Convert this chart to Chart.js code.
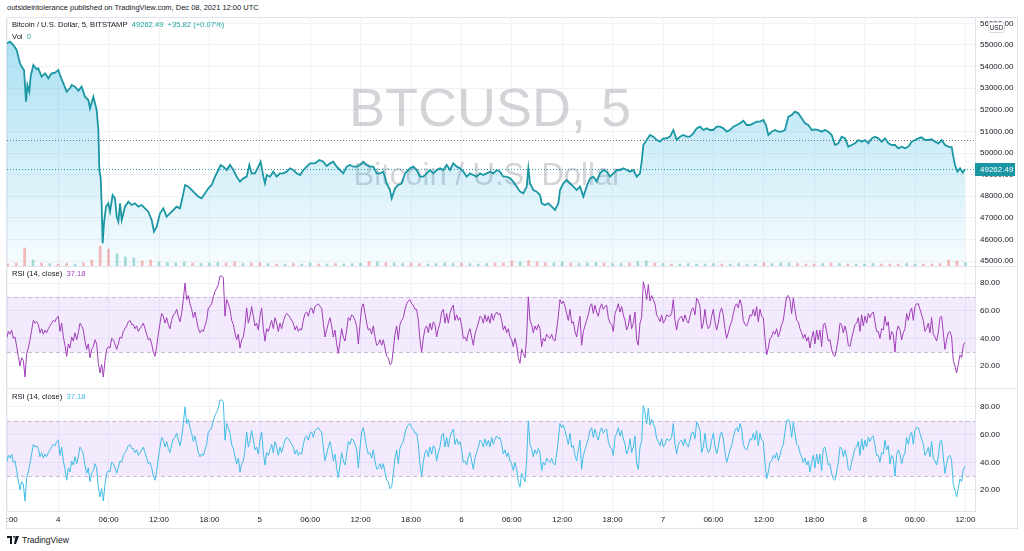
<!DOCTYPE html>
<html>
<head>
<meta charset="utf-8">
<script src="https://cdn.jsdelivr.net/npm/chart.js@4.4.1/dist/chart.umd.min.js"></script>
<style>
  body { margin: 0; width: 1024px; height: 551px; overflow: hidden; background: #fff;
         font-family: "Liberation Sans", Arial, sans-serif; color: #131722; position: relative; }
  .abs { position: absolute; }
  #hdr { left: 7px; top: 3px; font-size: 7.5px; line-height: 10px; white-space: nowrap; }
  #frame { left: 6px; top: 17px; width: 1012px; height: 512px; border: 1px solid #e0e3eb; box-sizing: border-box; }
  .sep { left: 6px; width: 1012px; height: 1px; background: #e0e3eb; }
  .legend { left: 12px; font-size: 7.6px; line-height: 10px; white-space: nowrap; }
  #footer { left: 7px; top: 534px; font-size: 8.5px; line-height: 12px; display: flex; align-items: center; gap: 3px; }
</style>
</head>
<body>
<div id="hdr" class="abs">outsideintolerance published on TradingView.com, Dec 08, 2021 12:00 UTC</div>
<div id="frame" class="abs"></div>

<canvas id="priceChart" class="abs" style="left:7px;top:17px" width="1010" height="249"></canvas>
<div class="abs sep" style="top:266px"></div>
<canvas id="rsiChart1" class="abs" style="left:7px;top:267px" width="1010" height="121"></canvas>
<div class="abs sep" style="top:388px"></div>
<canvas id="rsiChart2" class="abs" style="left:7px;top:389px" width="1010" height="139"></canvas>

<div class="abs legend" style="top:20px">Bitcoin / U.S. Dollar, 5, BITSTAMP&nbsp;&nbsp;<span style="color:#22a39a">49262.49&nbsp;&nbsp;+35.82 (+0.07%)</span></div>
<div class="abs legend" style="top:32px">Vol&nbsp;&nbsp;<span style="color:#22a39a">0</span></div>
<div class="abs legend" style="top:269px">RSI (14, close)&nbsp;&nbsp;<span style="color:#a03db8">37.18</span></div>
<div class="abs legend" style="top:392px">RSI (14, close)&nbsp;&nbsp;<span style="color:#3fbde6">37.18</span></div>

<div id="footer" class="abs">
  <svg width="12" height="8" viewBox="0 0 12 8"><path d="M0 0h5v8H3V2H0z M6 0h2l-1 3z M8.5 0h3.5l-3 8H7z" fill="#131722"/></svg>
  <span>TradingView</span>
</div>

<script>
// 가격 데이터 (시간: 12월 3일 18:00 기준 경과 시간)
const priceHours = [
  -0.1, 0.26, 0.66, 1.06, 1.25, 1.45, 1.77, 1.93, 2.17, 2.33, 2.56, 2.72, 3.04, 3.44, 3.63, 4.03, 4.43, 4.83, 5.22, 5.62,
  6.02, 6.21, 6.61, 7.01, 7.40, 7.60, 8.00, 8.40, 8.79, 9.19, 9.59, 9.79, 10.18, 10.58, 10.78, 10.90, 11.06, 11.17, 11.29, 11.45,
  11.69, 11.97, 12.17, 12.48, 12.76, 12.96, 13.16, 13.36, 13.56, 13.95, 14.35, 14.75, 15.14, 15.54, 15.94, 16.33, 16.73, 17.13, 17.40, 17.72,
  18.12, 18.52, 18.91, 19.31, 19.71, 20.10, 20.50, 20.82, 21.10, 21.49, 21.89, 22.29, 22.68, 23.08, 23.48, 23.87, 24.27, 24.67, 25.06, 25.34,
  25.66, 26.06, 26.45, 26.85, 27.25, 27.64, 28.04, 28.44, 28.75, 29.03, 29.43, 29.82, 30.10, 30.42, 30.62, 30.82, 31.21, 31.61, 32.01, 32.40,
  32.80, 33.20, 33.60, 33.99, 34.39, 34.79, 35.19, 35.58, 35.98, 36.57, 37.09, 37.56, 37.96, 38.36, 38.75, 39.15, 39.55, 39.94, 40.34, 40.74,
  41.13, 41.53, 41.93, 42.33, 42.72, 43.12, 43.52, 43.91, 44.31, 44.71, 45.10, 45.50, 45.70, 46.10, 46.49, 46.89, 47.29, 47.88, 48.28, 48.67,
  49.07, 49.47, 49.87, 50.26, 50.66, 51.06, 51.45, 51.85, 52.25, 52.64, 53.04, 53.44, 53.83, 54.23, 54.63, 55.02, 55.42, 55.82, 56.21, 56.61,
  57.01, 57.40, 57.80, 58.20, 58.60, 58.99, 59.39, 59.79, 60.18, 60.58, 60.98, 61.37, 61.77, 61.97, 62.17, 62.56, 62.96, 63.36, 63.56, 63.95,
  64.35, 64.75, 65.14, 65.54, 65.74, 66.13, 66.53, 66.93, 67.33, 67.72, 68.12, 68.52, 68.91, 69.31, 69.71, 70.10, 70.50, 70.90, 71.29, 71.69,
  72.09, 72.49, 72.88, 73.28, 73.68, 74.07, 74.47, 74.87, 75.26, 75.46, 75.66, 76.06, 76.45, 76.85, 77.25, 77.64, 78.04, 78.44, 78.83, 79.23,
  79.63, 80.02, 80.42, 80.82, 81.21, 81.61, 82.01, 82.40, 82.80, 83.20, 83.60, 83.99, 84.39, 84.79, 85.19, 85.58, 85.98, 86.38, 86.77, 87.17,
  87.57, 87.96, 88.36, 88.76, 89.15, 89.55, 89.95, 90.26, 90.54, 90.94, 91.33, 91.73, 92.13, 92.52, 92.92, 93.32, 93.71, 94.11, 94.51, 94.90,
  95.30, 95.70, 96.10, 96.49, 96.89, 97.29, 97.68, 98.08, 98.48, 98.87, 99.27, 99.67, 100.06, 100.46, 100.86, 101.25, 101.65, 102.05, 102.44, 102.84,
  103.24, 103.63, 104.03, 104.43, 104.83, 105.22, 105.62, 106.02, 106.41, 106.81, 107.21, 107.60, 108.00, 108.40, 108.79, 109.19, 109.59, 109.98, 110.38, 110.78,
  111.17, 111.57, 111.97, 112.37, 112.56, 112.76, 113.04, 113.36, 113.67, 113.95
];
const priceValues = [
  55078, 55155, 55000, 54769, 54460, 54152, 53920, 53843, 52377, 53149, 52840, 53534, 54075, 53874, 53920, 53534, 53689, 53457, 53689, 53720,
  53843, 53611, 53226, 52840, 52994, 53149, 53071, 52886, 53071, 52608, 52454, 52068, 52608, 51991, 51065, 49213, 48827, 47670, 45818, 46744,
  47516, 47670, 47284, 48056, 47901, 47053, 46821, 47670, 46898, 47516, 47747, 47593, 47670, 47516, 47593, 47439, 47284, 46898, 46358, 46590,
  47207, 47439, 47053, 47207, 47361, 47516, 47439, 47979, 48519, 48442, 48287, 48133, 47979, 47901, 48133, 48364, 48519, 48904, 49213, 49445,
  49367, 49213, 49445, 49213, 48904, 48673, 48827, 48904, 49445, 49059, 49059, 49367, 49599, 48904, 48596, 48982, 48904, 49136, 48904, 49059,
  49059, 49136, 49290, 49213, 49059, 48982, 49213, 49367, 49522, 49522, 49676, 49599, 49398, 49522, 49599, 49367, 49213, 49059, 49367, 49445,
  49367, 49367, 49445, 49599, 49445, 49367, 49367, 49059, 49059, 49136, 48596, 48287, 47901, 48364, 48519, 48596, 49059, 49290, 49367, 49213,
  48904, 48904, 49059, 49213, 49059, 49213, 49290, 49213, 49445, 49213, 49522, 49367, 49290, 49136, 48904, 49059, 48982, 48904, 49059, 48982,
  49059, 49136, 49059, 49213, 49136, 48904, 48904, 48827, 48673, 48442, 48210, 48133, 48442, 49290, 48596, 48287, 48210, 48056, 47670, 47593,
  47670, 47516, 47361, 47670, 48287, 48596, 48750, 48596, 48442, 48287, 48442, 47979, 48442, 48827, 48904, 48673, 49059, 49213, 49136, 48904,
  49059, 49213, 49213, 49290, 49213, 49136, 49213, 48904, 49059, 49599, 50371, 50602, 50833, 50756, 50602, 50525, 50679, 50679, 50756, 51065,
  50602, 50756, 50833, 50756, 50756, 50911, 51142, 51219, 51065, 51142, 51065, 51065, 51219, 51219, 51142, 50988, 51065, 51219, 51297, 51374,
  51497, 51297, 51297, 51374, 51451, 51451, 51528, 51297, 50833, 50988, 51065, 50988, 50988, 51065, 51682, 51760, 51914, 51837, 51605, 51374,
  51297, 51065, 51096, 51065, 50988, 51065, 50988, 50833, 50371, 50448, 50756, 50679, 50293, 50371, 50448, 50602, 50525, 50602, 50448, 50679,
  50756, 50679, 50525, 50679, 50448, 50371, 50371, 50216, 50293, 50216, 50293, 50525, 50602, 50679, 50726, 50602, 50602, 50633, 50525, 50448,
  50602, 50371, 50293, 50262, 49830, 49445, 49136, 49290, 49090, 49262.49
];

// 거래량 (1시간 단위)
const volumeValues = [
  20, 30, 180, 60, 30, 25, 20, 25, 20, 30, 60, 200, 170, 120, 90, 80, 50, 60, 40, 35,
  30, 40, 30, 25, 30, 35, 30, 40, 25, 30, 35, 25, 20, 20, 25, 20, 30, 20, 20, 25,
  20, 25, 30, 45, 40, 35, 30, 25, 30, 25, 20, 25, 30, 25, 30, 25, 20, 25, 30, 30,
  50, 40, 55, 40, 35, 30, 40, 30, 25, 30, 35, 30, 25, 25, 30, 45, 50, 30, 25, 20,
  20, 25, 20, 20, 25, 20, 20, 25, 20, 20, 35, 25, 30, 30, 25, 20, 20, 25, 30, 25,
  20, 20, 20, 25, 20, 20, 20, 25, 20, 20, 20, 25, 60, 50, 35
];

// RSI (14, close) - 약 12분 간격 샘플
const rsiStartHour = -0.135;
const rsiStepHours = 0.1984;
const rsiValues = [
  40, 45, 43, 46, 40, 41, 34, 27, 20, 26, 24, 12, 29, 33, 39, 46, 53, 51, 52, 50,
  44, 47, 43, 46, 44, 47, 49, 51, 53, 52, 55, 56, 45, 51, 41, 35, 27, 36, 33, 41,
  38, 44, 39, 44, 51, 49, 46, 38, 32, 36, 26, 32, 34, 39, 36, 22, 15, 21, 12, 24,
  32, 34, 33, 40, 39, 36, 32, 36, 41, 40, 45, 47, 49, 52, 53, 50, 50, 47, 49, 45,
  47, 49, 51, 47, 43, 39, 40, 36, 30, 27, 34, 43, 51, 58, 56, 51, 55, 50, 47, 53,
  57, 58, 61, 56, 52, 58, 68, 80, 68, 71, 65, 61, 55, 59, 53, 47, 44, 46, 45, 49,
  53, 62, 63, 65, 70, 74, 76, 79, 85, 85, 84, 56, 68, 65, 61, 53, 50, 44, 39, 43,
  33, 39, 41, 49, 62, 51, 56, 63, 56, 49, 51, 46, 56, 62, 47, 38, 47, 45, 49, 53,
  47, 55, 51, 45, 51, 47, 52, 56, 58, 57, 55, 53, 51, 46, 49, 45, 47, 46, 53, 58,
  59, 56, 61, 62, 58, 63, 64, 65, 63, 62, 51, 41, 46, 51, 55, 49, 41, 46, 36, 29,
  38, 47, 41, 38, 46, 55, 53, 57, 56, 53, 49, 36, 50, 62, 65, 58, 51, 46, 47, 43,
  49, 41, 35, 36, 39, 35, 39, 33, 27, 26, 21, 22, 32, 43, 49, 39, 50, 53, 55, 61,
  65, 67, 68, 65, 64, 61, 61, 53, 39, 30, 40, 47, 49, 44, 51, 46, 52, 50, 41, 47,
  51, 59, 61, 51, 58, 51, 58, 62, 64, 53, 57, 53, 55, 49, 40, 41, 38, 44, 47, 41,
  35, 43, 47, 51, 56, 55, 51, 57, 52, 56, 51, 58, 53, 57, 59, 57, 58,
  53, 46, 49, 44, 47, 41, 39, 34, 40, 35, 26, 22, 32, 29, 26, 41, 70, 53, 50, 44,
  49, 46, 50, 47, 34, 40, 38, 43, 41, 40, 43, 39, 38, 46, 56, 68, 65, 67, 63, 58,
  53, 61, 51, 52, 45, 41, 49, 56, 35, 45, 49, 53, 57, 63, 65, 58, 64, 59, 56, 62,
  65, 61, 63, 64, 55, 51, 50, 45, 58, 61, 65, 59, 63, 57, 53, 46, 49, 57, 47, 51,
  59, 39, 35, 51, 55, 81, 76, 68, 79, 67, 71, 68, 65, 57, 55, 52, 57, 51, 53, 57,
  56, 56, 58, 68, 53, 46, 53, 55, 56, 52, 57, 53, 51, 56, 61, 62, 57, 69, 67, 63,
  47, 51, 61, 51, 47, 49, 56, 61, 52, 46, 51, 59, 62, 57, 47, 40, 44, 49, 52, 58,
  63, 65, 62, 68, 64, 53, 50, 49, 52, 57, 56, 61, 56, 63, 52, 61, 56, 55, 40, 28,
  33, 40, 41, 45, 43, 47, 41, 45, 50, 53, 62, 70, 71, 68, 58, 69, 61, 53, 52, 47,
  44, 40, 43, 38, 41, 33, 40, 45, 36, 46, 39, 46, 34, 50, 51, 45, 38, 39, 32, 28,
  27, 33, 40, 51, 50, 44, 49, 44, 35, 34, 40, 45, 50, 51, 55, 45, 57, 49, 56, 51,
  58, 55, 58, 59, 52, 45, 45, 40, 47, 46, 56, 49, 52, 39, 45, 43, 30, 45, 49, 46,
  39, 44, 47, 58, 53, 59, 62, 53, 63, 65, 65, 61, 57, 53, 45, 47, 51, 44, 55, 43,
  41, 38, 44, 55, 56, 44, 32, 39, 44, 45, 41, 24, 20, 15, 21, 28, 26, 35, 37.18
];

// 축 눈금
const timeTickLabels = ['18:00', '4', '06:00', '12:00', '18:00', '5', '06:00', '12:00', '18:00', '6',
                        '06:00', '12:00', '18:00', '7', '06:00', '12:00', '18:00', '8', '06:00', '12:00'];
const timeTickStepHours = 6;
const priceTicks = [45000, 46000, 47000, 48000, 49000, 50000, 51000, 52000, 53000, 54000, 55000, 56000];
const rsiTicks = [20, 40, 60, 80];
const rsiBand = [30, 70];
const lastPrice = 49262.49;
const prevClose = 50600;

const FONT = '"Liberation Sans", Arial, sans-serif';
const GRID = '#f0f2f6';
const BORDER = '#e0e3eb';
const LINE = '#1b97a3';

Chart.defaults.font.family = FONT;
Chart.defaults.font.size = 8;
Chart.defaults.color = '#131722';

const X_MIN = -0.095, X_MAX = 115.14;

function priceAt(t) {
    let v = priceValues[0];
    for (let i = 0; i < priceHours.length; i++) {
        if (priceHours[i] <= t) v = priceValues[i]; else break;
    }
    return v;
}

function xScale(showLabels) {
    return {
        type: 'linear',
        min: X_MIN,
        max: X_MAX,
        offset: false,
        grid: { color: GRID, drawTicks: false, offset: false },
        border: { display: showLabels, color: BORDER },
        ticks: {
            display: showLabels,
            padding: 4,
            maxRotation: 0,
            autoSkip: false,
            callback: (v) => timeTickLabels[Math.round(v / timeTickStepHours)]
        },
        afterBuildTicks: (s) => { s.ticks = timeTickLabels.map((l, i) => ({ value: i * timeTickStepHours })); },
        afterFit: (s) => { s.height = showLabels ? 17 : 0; s.paddingLeft = 0; s.paddingRight = 0; }
    };
}

function yScale(min, max, ticks) {
    return {
        position: 'right',
        min: min,
        max: max,
        grid: { color: GRID, drawTicks: false },
        border: { display: true, color: BORDER },
        ticks: { padding: 5, callback: (v) => Number(v).toFixed(2) },
        afterBuildTicks: (s) => { s.ticks = ticks.map(v => ({ value: v })); },
        afterFit: (s) => { s.width = 42; s.paddingTop = 0; s.paddingBottom = 0; }
    };
}

// 가격 패널 워터마크, 기준선, 현재가 라벨
const pricePanePlugin = {
    id: 'pricePane',
    beforeDatasetsDraw(chart) {
        const { ctx, chartArea: a, scales: { y } } = chart;
        ctx.save();
        ctx.fillStyle = 'rgba(120,123,134,0.33)';
        ctx.textAlign = 'center';
        ctx.textBaseline = 'middle';
        ctx.font = '54px ' + FONT;
        ctx.fillText('BTCUSD, 5', 483, 94);
        ctx.font = '31px ' + FONT;
        ctx.fillText('Bitcoin / U.S. Dollar', 481, 159);

        ctx.lineWidth = 1;
        ctx.setLineDash([1, 2]);
        let yp = Math.round(y.getPixelForValue(prevClose)) + 0.5;
        ctx.strokeStyle = '#6a6d78';
        ctx.beginPath(); ctx.moveTo(a.left, yp); ctx.lineTo(a.right, yp); ctx.stroke();
        yp = Math.round(y.getPixelForValue(lastPrice)) + 0.5;
        ctx.strokeStyle = LINE;
        ctx.beginPath(); ctx.moveTo(a.left, yp); ctx.lineTo(a.right, yp); ctx.stroke();
        ctx.restore();
    },
    afterDraw(chart) {
        const { ctx, chartArea: a, scales: { y } } = chart;
        ctx.save();
        const yp = Math.round(y.getPixelForValue(lastPrice));
        ctx.fillStyle = LINE;
        ctx.fillRect(a.right, yp - 6, 40, 13);
        ctx.fillStyle = '#fff';
        ctx.font = '8px ' + FONT;
        ctx.textBaseline = 'middle';
        ctx.textAlign = 'left';
        ctx.fillText(lastPrice.toFixed(2), a.right + 5, yp + 0.5);

        // USD 배지
        ctx.fillStyle = '#fff';
        ctx.strokeStyle = '#d6d9e0';
        ctx.beginPath();
        ctx.roundRect(981.5, 5.5, 16, 10, 2);
        ctx.fill(); ctx.stroke();
        ctx.fillStyle = '#131722';
        ctx.font = '6.5px ' + FONT;
        ctx.textAlign = 'center';
        ctx.fillText('USD', 989.5, 11);
        ctx.restore();
    }
};

// RSI 30~70 밴드
const rsiBandPlugin = {
    id: 'rsiBand',
    beforeDatasetsDraw(chart) {
        const { ctx, chartArea: a, scales: { y } } = chart;
        const top = y.getPixelForValue(rsiBand[1]);
        const bot = y.getPixelForValue(rsiBand[0]);
        ctx.save();
        ctx.fillStyle = 'rgba(149,76,233,0.11)';
        ctx.fillRect(a.left, top, a.right - a.left, bot - top);
        ctx.strokeStyle = '#c9bcd8';
        ctx.lineWidth = 1;
        ctx.setLineDash([4, 3]);
        [top, bot].forEach(p => {
            const yy = Math.round(p) + 0.5;
            ctx.beginPath(); ctx.moveTo(a.left, yy); ctx.lineTo(a.right, yy); ctx.stroke();
        });
        ctx.restore();
    }
};

// 가격 차트
const pricePoints = priceHours.map((h, i) => ({ x: h, y: priceValues[i] }));
const volumePoints = volumeValues.map((v, h) => ({ x: h, y: v }));
const volumeColors = volumeValues.map((v, h) =>
    priceAt(h + 1) >= priceAt(h) ? 'rgba(38,166,154,0.4)' : 'rgba(239,83,80,0.4)');

new Chart(document.getElementById('priceChart'), {
    data: {
        datasets: [
            {
                type: 'bar',
                data: volumePoints,
                yAxisID: 'yVol',
                backgroundColor: volumeColors,
                barThickness: 2,
                order: 0
            },
            {
                type: 'line',
                data: pricePoints,
                yAxisID: 'y',
                borderColor: LINE,
                borderWidth: 1.8,
                pointRadius: 0,
                tension: 0,
                fill: 'start',
                backgroundColor: (c) => {
                    const a = c.chart.chartArea;
                    if (!a) return 'rgba(0,0,0,0)';
                    const g = c.chart.ctx.createLinearGradient(0, a.top, 0, a.bottom);
                    g.addColorStop(0, 'rgba(40,175,225,0.42)');
                    g.addColorStop(1, 'rgba(40,175,225,0.04)');
                    return g;
                },
                order: 1
            }
        ]
    },
    options: {
        responsive: false,
        animation: false,
        devicePixelRatio: 1,
        layout: { padding: 0 },
        plugins: { legend: { display: false }, tooltip: { enabled: false } },
        scales: {
            x: xScale(false),
            y: yScale(44769, 56296, priceTicks),
            yVol: { display: false, min: 0, max: 2490 }
        }
    },
    plugins: [pricePanePlugin]
});

// RSI 차트
const rsiPoints = rsiValues.map((v, i) => ({ x: rsiStartHour + i * rsiStepHours, y: v }));

function makeRsiChart(id, color, min, max, showTime) {
    new Chart(document.getElementById(id), {
        type: 'line',
        data: {
            datasets: [{
                data: rsiPoints,
                borderColor: color,
                borderWidth: 1,
                pointRadius: 0,
                tension: 0
            }]
        },
        options: {
            responsive: false,
            animation: false,
            devicePixelRatio: 1,
            layout: { padding: 0 },
            plugins: { legend: { display: false }, tooltip: { enabled: false } },
            scales: {
                x: xScale(showTime),
                y: yScale(min, max, rsiTicks)
            }
        },
        plugins: [rsiBandPlugin]
    });
}

makeRsiChart('rsiChart1', '#a03db8', 4.1, 91.6, false);
makeRsiChart('rsiChart2', '#3fbde6', 4.8, 93.0, true);
</script>
</body>
</html>
